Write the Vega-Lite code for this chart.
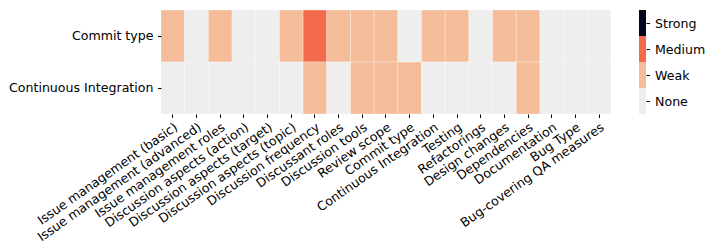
{
  "$schema": "https://vega.github.io/schema/vega-lite/v6.json",
  "background": "white",
  "padding": {"left": 8, "top": 9, "right": 5, "bottom": 5},
  "spacing": 27,
  "config": {
    "font": "DejaVu Sans",
    "view": {"stroke": null},
    "axis": {"labelFont": "DejaVu Sans", "labelFontSize": 12.6, "labelColor": "black", "tickColor": "black", "domain": false, "tickSize": 3.5, "tickWidth": 1, "labelPadding": 4.5}
  },
  "datasets": {
    "cells": [
      {"row": "Commit type", "col": "Issue management (basic)", "level": "Weak"},
      {"row": "Commit type", "col": "Issue management (advanced)", "level": "None"},
      {"row": "Commit type", "col": "Issue management roles", "level": "Weak"},
      {"row": "Commit type", "col": "Discussion aspects (action)", "level": "None"},
      {"row": "Commit type", "col": "Discussion aspects (target)", "level": "None"},
      {"row": "Commit type", "col": "Discussion aspects (topic)", "level": "Weak"},
      {"row": "Commit type", "col": "Discussion frequency", "level": "Medium"},
      {"row": "Commit type", "col": "Discussant roles", "level": "Weak"},
      {"row": "Commit type", "col": "Discussion tools", "level": "Weak"},
      {"row": "Commit type", "col": "Review scope", "level": "Weak"},
      {"row": "Commit type", "col": "Commit type", "level": "None"},
      {"row": "Commit type", "col": "Continuous Integration", "level": "Weak"},
      {"row": "Commit type", "col": "Testing", "level": "Weak"},
      {"row": "Commit type", "col": "Refactorings", "level": "None"},
      {"row": "Commit type", "col": "Design changes", "level": "Weak"},
      {"row": "Commit type", "col": "Dependencies", "level": "Weak"},
      {"row": "Commit type", "col": "Documentation", "level": "None"},
      {"row": "Commit type", "col": "Bug Type", "level": "None"},
      {"row": "Commit type", "col": "Bug-covering QA measures", "level": "None"},
      {"row": "Continuous Integration", "col": "Issue management (basic)", "level": "None"},
      {"row": "Continuous Integration", "col": "Issue management (advanced)", "level": "None"},
      {"row": "Continuous Integration", "col": "Issue management roles", "level": "None"},
      {"row": "Continuous Integration", "col": "Discussion aspects (action)", "level": "None"},
      {"row": "Continuous Integration", "col": "Discussion aspects (target)", "level": "None"},
      {"row": "Continuous Integration", "col": "Discussion aspects (topic)", "level": "None"},
      {"row": "Continuous Integration", "col": "Discussion frequency", "level": "Weak"},
      {"row": "Continuous Integration", "col": "Discussant roles", "level": "None"},
      {"row": "Continuous Integration", "col": "Discussion tools", "level": "Weak"},
      {"row": "Continuous Integration", "col": "Review scope", "level": "Weak"},
      {"row": "Continuous Integration", "col": "Commit type", "level": "Weak"},
      {"row": "Continuous Integration", "col": "Continuous Integration", "level": "None"},
      {"row": "Continuous Integration", "col": "Testing", "level": "None"},
      {"row": "Continuous Integration", "col": "Refactorings", "level": "None"},
      {"row": "Continuous Integration", "col": "Design changes", "level": "None"},
      {"row": "Continuous Integration", "col": "Dependencies", "level": "Weak"},
      {"row": "Continuous Integration", "col": "Documentation", "level": "None"},
      {"row": "Continuous Integration", "col": "Bug Type", "level": "None"},
      {"row": "Continuous Integration", "col": "Bug-covering QA measures", "level": "None"}
    ],
    "levels": [
      {"level": "None", "lo": 0, "hi": 1},
      {"level": "Weak", "lo": 1, "hi": 2},
      {"level": "Medium", "lo": 2, "hi": 3},
      {"level": "Strong", "lo": 3, "hi": 4}
    ]
  },
  "hconcat": [
    {
      "width": 450,
      "height": 104,
      "data": {"name": "cells"},
      "mark": {"type": "rect", "stroke": "white", "strokeWidth": 0.6, "strokeOpacity": 0.5},
      "encoding": {
        "x": {
          "field": "col", "type": "nominal", "title": null,
          "sort": ["Issue management (basic)", "Issue management (advanced)", "Issue management roles", "Discussion aspects (action)", "Discussion aspects (target)", "Discussion aspects (topic)", "Discussion frequency", "Discussant roles", "Discussion tools", "Review scope", "Commit type", "Continuous Integration", "Testing", "Refactorings", "Design changes", "Dependencies", "Documentation", "Bug Type", "Bug-covering QA measures"],
          "scale": {"paddingInner": 0, "paddingOuter": 0},
          "axis": {"labelAngle": -35, "labelAlign": "right", "labelBaseline": "top", "labelLimit": 400, "labelPadding": 3}
        },
        "y": {
          "field": "row", "type": "nominal", "title": null,
          "sort": ["Commit type", "Continuous Integration"],
          "scale": {"paddingInner": 0, "paddingOuter": 0},
          "axis": {"labelLimit": 400}
        },
        "color": {
          "field": "level", "type": "ordinal", "legend": null,
          "scale": {"domain": ["None", "Weak", "Medium", "Strong"], "range": ["#eeeeee", "#f5bc99", "#f26b4a", "#03051a"]}
        }
      }
    },
    {
      "width": 7,
      "height": 104,
      "data": {"name": "levels"},
      "mark": {"type": "rect"},
      "encoding": {
        "y": {"field": "lo", "type": "quantitative", "scale": {"domain": [0, 4], "nice": false, "zero": false},
              "axis": {"values": [0.5, 1.5, 2.5, 3.5], "orient": "right", "title": null, "grid": false, "labelPadding": 5,
                       "labelExpr": "['None','Weak','Medium','Strong'][floor(datum.value)]"}},
        "y2": {"field": "hi"},
        "color": {
          "field": "level", "type": "ordinal", "legend": null,
          "scale": {"domain": ["None", "Weak", "Medium", "Strong"], "range": ["#eeeeee", "#f5bc99", "#f26b4a", "#03051a"]}
        }
      }
    }
  ]
}
